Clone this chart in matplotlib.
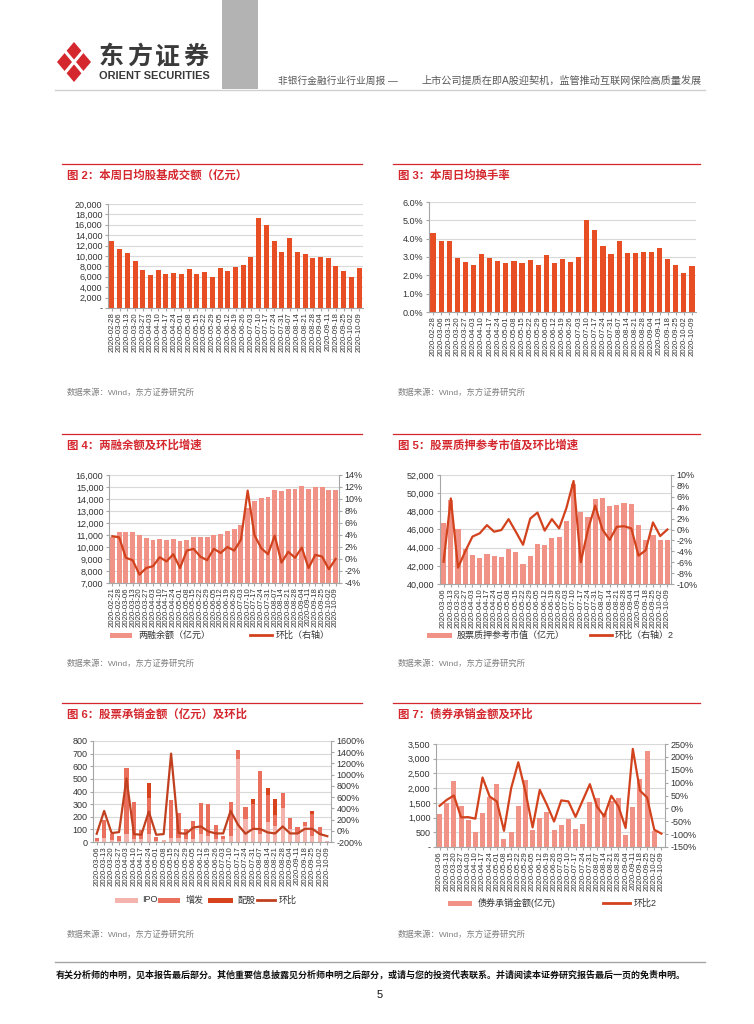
import numpy as np
import matplotlib
matplotlib.use('Agg')
import matplotlib.pyplot as plt
from matplotlib.patches import Rectangle, Polygon
from matplotlib.lines import Line2D
from matplotlib.ticker import FuncFormatter

plt.rcParams['font.family'] = ['Liberation Sans', 'Noto Sans CJK SC']
plt.rcParams['axes.unicode_minus'] = False

W, H = 754, 1024

# weekly dates, 2020-02-21 .. 2020-10-09
dates = ['2020-02-21', '2020-02-28', '2020-03-06', '2020-03-13', '2020-03-20', '2020-03-27',
         '2020-04-03', '2020-04-10', '2020-04-17', '2020-04-24', '2020-05-01', '2020-05-08',
         '2020-05-15', '2020-05-22', '2020-05-29', '2020-06-05', '2020-06-12', '2020-06-19',
         '2020-06-26', '2020-07-03', '2020-07-10', '2020-07-17', '2020-07-24', '2020-07-31',
         '2020-08-07', '2020-08-14', '2020-08-21', '2020-08-28', '2020-09-04', '2020-09-11',
         '2020-09-18', '2020-09-25', '2020-10-02', '2020-10-09']

# fig 2: daily avg turnover (亿元)
turnover = [12900, 11300, 10600, 9000, 7400, 6300, 7300, 6500, 6700, 6500, 7500, 6500, 7000,
            5900, 7600, 7100, 7900, 8200, 9900, 17300, 16000, 12900, 10800, 13500, 10700,
            10300, 9700, 9800, 9600, 8000, 7200, 5900, 7600]
# fig 3: daily avg turnover rate (%)
turn_rate = [4.3, 3.9, 3.85, 2.95, 2.75, 2.55, 3.15, 2.95, 2.8, 2.65, 2.8, 2.7, 2.85, 2.55,
             3.1, 2.7, 2.9, 2.75, 3.0, 5.0, 4.5, 3.6, 3.15, 3.85, 3.2, 3.2, 3.3, 3.25, 3.5,
             2.9, 2.55, 2.15, 2.5]
# fig 4: margin balance and wow change
margin = [10875, 11260, 11260, 11260, 10960, 10790, 10600, 10650, 10600, 10680, 10490, 10600,
          10820, 10850, 10820, 11010, 11100, 11350, 11510, 11870, 13290, 13840, 14090, 14170,
          14750, 14640, 14810, 14840, 15090, 14840, 14980, 15000, 14750, 14750]
margin_chg = [3.8, 3.6, 0.2, -0.2, -2.6, -1.5, -1.2, 0.3, -0.4, 0.8, -1.5, 1.4, 1.7, 0.4,
              -0.2, 1.7, 1.0, 2.0, 1.4, 3.2, 11.4, 4.0, 1.8, 0.8, 3.9, -0.6, 1.2, 0.2, 1.9,
              -1.5, 0.7, 0.4, -1.7, 0.0]
# fig 5: pledged share reference value and wow change
pledge = [46700, 49300, 46000, 43800, 43200, 42900, 43300, 43100, 43000, 43850, 43500, 42200,
          43100, 44400, 44300, 45100, 45200, 46900, 51000, 47900, 47400, 49400, 49500, 48550,
          48700, 48900, 48800, 46500, 44850, 45400, 44850, 44850]
pledge_chg = [-5.9, 5.7, -7.0, -4.0, -1.3, -0.7, 0.8, -0.4, -0.1, 1.9, -0.4, -2.8, 2.0, 3.1,
              -0.2, 1.9, 0.2, 3.9, 8.9, -6.0, 0.0, 4.4, 0.0, -1.9, 0.5, 0.6, 0.2, -4.8, -3.8,
              1.3, -1.2, 0.0]
# fig 6: equity underwriting
ipo = [10, 30, 15, 10, 60, 20, 20, 60, 10, 18, 30, 30, 20, 20, 60, 50, 20, 20, 50, 660, 180,
       110, 60, 160, 130, 270, 100, 60, 130, 50, 60, 5]
seo = [24, 146, 51, 35, 523, 295, 77, 290, 30, 0, 301, 201, 85, 148, 250, 249, 116, 30, 265,
       72, 101, 190, 502, 215, 80, 121, 89, 61, 30, 170, 58, 0]
rights = [0, 0, 0, 0, 0, 0, 0, 115, 0, 0, 0, 0, 0, 0, 0, 0, 0, 0, 0, 0, 0, 39, 0, 50, 131, 0,
          0, 0, 0, 27, 0, 0]
equity_chg = [-53, 354, -41, -24, 933, -59, -71, 342, -71, -59, 1375, -41, -53, 59, 77, -12,
              -47, -47, 354, 106, -53, 35, 30, -30, -47, 77, -47, -47, 35, 35, -59, -96]
# fig 7: bond underwriting
bond = [1120, 1500, 2250, 1410, 920, 520, 1160, 1700, 2130, 280, 500, 1400, 2280, 570, 980,
        1180, 580, 750, 960, 620, 790, 1540, 1650, 1140, 1560, 1670, 400, 1360, 2300, 3270,
        560, 12]
bond_chg = [10, 33, 50, -35, -34, -40, 120, 46, 27, -87, 78, 179, 65, -74, 72, 14, -51, 31,
            27, -33, 31, 94, 7, -31, 49, 7, -76, 231, 69, 42, -83, -98]

RED = '#d4272e'
BAR1 = '#e84e24'
BAR2 = '#f09286'
LINE = '#d2421d'
GRID = '#d9d9d9'
AX = '#a6a6a6'
TXT = '#333333'


def box(l, t, r, b):
    return [l / W, 1 - b / H, (r - l) / W, (b - t) / H]


def P(x, y):
    return x / W, 1 - y / H


def setup(ax, labels):
    n = len(labels)
    ax.set_xlim(-0.5, n - 0.5)
    ax.set_xticks(range(n))
    ax.set_xticklabels(labels, rotation=90, fontsize=5.6)
    for s in ['top', 'right']:
        ax.spines[s].set_visible(False)
    ax.spines['left'].set_color(AX)
    ax.spines['bottom'].set_color(AX)
    ax.yaxis.grid(True, color=GRID, lw=0.8)
    ax.set_axisbelow(True)
    ax.tick_params(axis='y', labelsize=6.5, length=2, color=AX, labelcolor=TXT, pad=2)
    ax.tick_params(axis='x', length=2, color=AX, labelcolor=TXT, pad=1)


def twin(ax):
    ax2 = ax.twinx()
    for s in ['top', 'left', 'bottom']:
        ax2.spines[s].set_visible(False)
    ax2.spines['right'].set_color(AX)
    ax2.tick_params(axis='y', labelsize=6.5, length=2, color=AX, labelcolor=TXT, pad=2)
    return ax2


def header(x0, x1, y, title, src_y):
    fig.add_artist(Line2D([x0 / W, x1 / W], [1 - y / H] * 2, color=RED, lw=0.9))
    fig.text(*P(x0 + 5, y + 11), title, color=RED, fontsize=8.2, fontweight='bold',
             va='center', ha='left')
    fig.text(*P(x0 + 5, src_y), '数据来源：Wind，东方证券研究所', color='#808080',
             fontsize=6, va='center', ha='left')


def leg_patch(x0, x1, y, color):
    fig.add_artist(Rectangle(P(x0, y + 2.5), (x1 - x0) / W, 5 / H, color=color, lw=0))


def leg_line(x0, x1, y, color):
    fig.add_artist(Line2D([x0 / W, x1 / W], [1 - y / H] * 2, color=color, lw=2))


def leg_text(x, y, s):
    fig.text(*P(x, y), s, fontsize=6.5, color=TXT, va='center', ha='left')


fig = plt.figure(figsize=(W / 100, H / 100), dpi=100)

# ---- page header
cx, cy = 74, 62
fig.add_artist(Polygon([P(cx, cy - 20), P(cx + 17, cy), P(cx, cy + 20), P(cx - 17, cy)],
                       closed=True, color=RED, lw=0))
fig.add_artist(Line2D([P(cx - 10, 0)[0], P(cx + 10, 0)[0]], [P(0, cy - 12)[1], P(0, cy + 12)[1]],
                      color='white', lw=2.2))
fig.add_artist(Line2D([P(cx - 10, 0)[0], P(cx + 10, 0)[0]], [P(0, cy + 12)[1], P(0, cy - 12)[1]],
                      color='white', lw=2.2))
for i, ch in enumerate('东方证券'):
    fig.text(*P(99 + i * 28, 57), ch, fontsize=18, fontweight='bold', color='#3a3a3a',
             va='center', ha='left')
fig.text(*P(99, 76), 'ORIENT SECURITIES', fontsize=7.9, fontweight='bold', color='#3a3a3a',
         va='center', ha='left')
fig.add_artist(Rectangle(P(222, 89), 36 / W, 89 / H, color='#b3b3b3', lw=0))
fig.add_artist(Line2D([55 / W, 705 / W], [1 - 89.5 / H] * 2, color='#d0d0d0', lw=1))
fig.text(*P(278, 81), '非银行金融行业行业周报 —', fontsize=7, color='#595959',
         va='center', ha='left')
fig.text(*P(421, 81), '上市公司提质在即A股迎契机，监管推动互联网保险高质量发展', fontsize=7.3,
         color='#595959', va='center', ha='left')

# ---- fig 2
header(62, 362, 164, '图 2：本周日均股基成交额（亿元）', 393)
ax = fig.add_axes(box(108, 204, 363, 308))
setup(ax, dates[1:])
ax.bar(range(len(turnover)), turnover, width=0.65, color=BAR1)
ax.set_ylim(0, 20000)
ax.set_yticks(range(0, 20001, 2000))
ax.yaxis.set_major_formatter(FuncFormatter(lambda v, p: '-' if v == 0 else f'{v:,.0f}'))

# ---- fig 3
header(393, 700, 164, '图 3：本周日均换手率', 393)
ax = fig.add_axes(box(429, 202, 696, 312))
setup(ax, dates[1:])
ax.bar(range(len(turn_rate)), turn_rate, width=0.65, color=BAR1)
ax.set_ylim(0, 6)
ax.set_yticks(np.arange(0, 6.01, 1))
ax.yaxis.set_major_formatter(FuncFormatter(lambda v, p: f'{v:.1f}%'))

# ---- fig 4
header(62, 362, 434, '图 4：两融余额及环比增速', 664)
ax = fig.add_axes(box(109, 475, 339, 583))
setup(ax, dates)
ax.bar(range(len(margin)), margin, width=0.72, color=BAR2)
ax.set_ylim(7000, 16000)
ax.set_yticks(range(7000, 16001, 1000))
ax.yaxis.set_major_formatter(FuncFormatter(lambda v, p: f'{v:,.0f}'))
ax2 = twin(ax)
ax2.plot(range(len(margin_chg)), margin_chg, color=LINE, lw=1.6)
ax2.set_ylim(-4, 14)
ax2.set_yticks(range(-4, 15, 2))
ax2.yaxis.set_major_formatter(FuncFormatter(lambda v, p: f'{v:.0f}%'))
leg_patch(110, 132, 635, BAR2)
leg_text(138, 635, '两融余额（亿元）')
leg_line(250, 272, 635, LINE)
leg_text(276, 635, '环比（右轴）')

# ---- fig 5
header(393, 700, 434, '图 5：股票质押参考市值及环比增速', 664)
ax = fig.add_axes(box(440, 475, 671, 584))
setup(ax, dates[2:])
ax.bar(range(len(pledge)), pledge, width=0.72, color=BAR2)
ax.set_ylim(40000, 52000)
ax.set_yticks(range(40000, 52001, 2000))
ax.yaxis.set_major_formatter(FuncFormatter(lambda v, p: f'{v:,.0f}'))
ax2 = twin(ax)
ax2.plot(range(len(pledge_chg)), pledge_chg, color=LINE, lw=1.6)
ax2.set_ylim(-10, 10)
ax2.set_yticks(range(-10, 11, 2))
ax2.yaxis.set_major_formatter(FuncFormatter(lambda v, p: f'{v:.0f}%'))
leg_patch(427, 452, 635, BAR2)
leg_text(457, 635, '股票质押参考市值（亿元）')
leg_line(590, 612, 635, LINE)
leg_text(615, 635, '环比（右轴）2')

# ---- fig 6
header(62, 362, 703, '图 6：股票承销金额（亿元）及环比', 935)
ax = fig.add_axes(box(93, 741, 331, 842))
setup(ax, dates[2:])
x = np.arange(len(ipo))
ax.bar(x, ipo, width=0.55, color='#f4b3ac')
ax.bar(x, seo, width=0.55, bottom=ipo, color='#ea6f5d')
ax.bar(x, rights, width=0.55, bottom=np.add(ipo, seo), color='#d6431c')
ax.set_ylim(0, 800)
ax.set_yticks(range(0, 801, 100))
ax2 = twin(ax)
ax2.plot(x, equity_chg, color='#c0401f', lw=1.6)
ax2.set_ylim(-200, 1600)
ax2.set_yticks(range(-200, 1601, 200))
ax2.yaxis.set_major_formatter(FuncFormatter(lambda v, p: f'{v:.0f}%'))
leg_patch(115, 138, 900, '#f4b3ac')
leg_text(142, 900, 'IPO')
leg_patch(158, 180, 900, '#ea6f5d')
leg_text(186, 900, '增发')
leg_patch(208, 233, 900, '#d6431c')
leg_text(238, 900, '配股')
leg_line(257, 275, 900, '#c0401f')
leg_text(279, 900, '环比')

# ---- fig 7
header(393, 700, 703, '图 7：债券承销金额及环比', 935)
ax = fig.add_axes(box(436, 744, 665, 847))
setup(ax, dates[2:])
ax.bar(range(len(bond)), bond, width=0.7, color=BAR2)
ax.set_ylim(0, 3500)
ax.set_yticks(range(0, 3501, 500))
ax.yaxis.set_major_formatter(FuncFormatter(lambda v, p: '-' if v == 0 else f'{v:,.0f}'))
ax2 = twin(ax)
ax2.plot(range(len(bond_chg)), bond_chg, color=LINE, lw=1.6)
ax2.set_ylim(-150, 250)
ax2.set_yticks(range(-150, 251, 50))
ax2.yaxis.set_major_formatter(FuncFormatter(lambda v, p: f'{v:.0f}%'))
leg_patch(448, 472, 903, BAR2)
leg_text(478, 903, '债券承销金额(亿元)')
leg_line(603, 630, 903, LINE)
leg_text(634, 903, '环比2')

# ---- footer
fig.add_artist(Line2D([55 / W, 705 / W], [1 - 962 / H] * 2, color='#a6a6a6', lw=1))
fig.text(*P(56, 975), '有关分析师的申明，见本报告最后部分。其他重要信息披露见分析师申明之后部分，'
         '或请与您的投资代表联系。并请阅读本证券研究报告最后一页的免责申明。',
         fontsize=6.5, fontweight='bold', color='#111111', va='center', ha='left')
fig.text(*P(380, 995), '5', fontsize=8, color='#111111', va='center', ha='center')

fig.savefig('out.png', dpi=100)
